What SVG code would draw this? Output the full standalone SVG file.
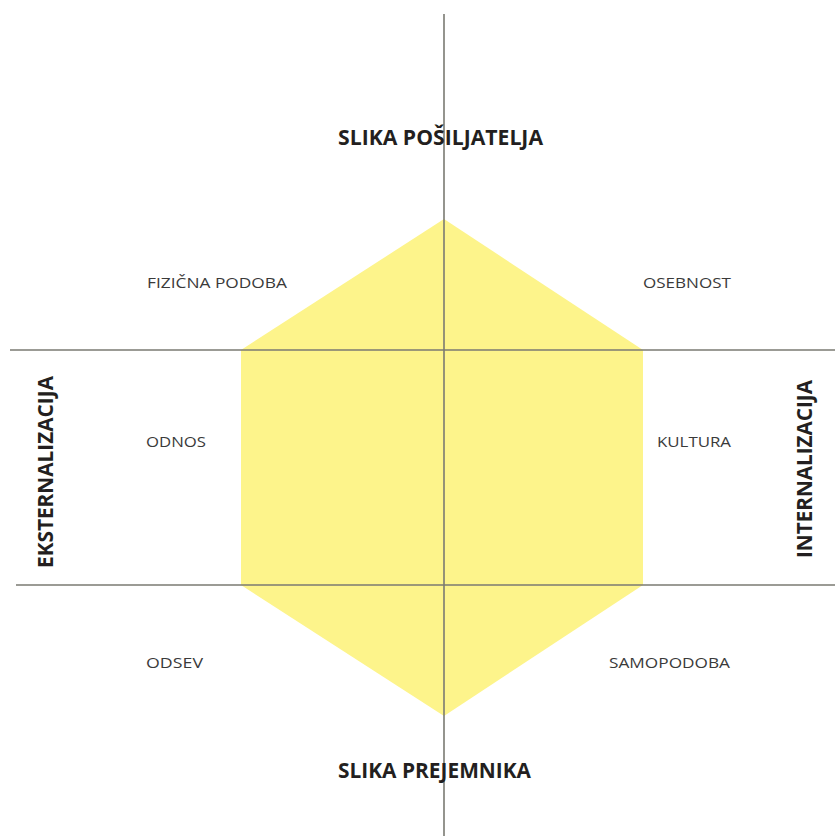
<svg xmlns="http://www.w3.org/2000/svg" width="835" height="836" viewBox="0 0 835 836">
<style>
.ax{stroke:#7a7a72;stroke-width:1.6;fill:none}
.t{font-family:"Open Sans","Liberation Sans",sans-serif;font-weight:bold;font-size:20.5px;fill:#231f20;text-anchor:middle}
.l{font-family:"Open Sans","Liberation Sans",sans-serif;font-size:14.5px;fill:#3a3a3a;text-anchor:middle}
</style>
<rect width="835" height="836" fill="#ffffff"/>
<g id="hexagon"><polygon points="444,219 643,350 643,585 444,716 241,585 241,350" fill="#fdf48b"/></g>
<g id="connectors">
<line class="ax" x1="444" y1="14" x2="444" y2="836"/>
<line class="ax" x1="10" y1="350" x2="835" y2="350"/>
<line class="ax" x1="16" y1="585" x2="835" y2="585"/>
</g>
<g id="slika-posiljatelja"><text class="t" x="440.5" y="145" textLength="205" lengthAdjust="spacingAndGlyphs">SLIKA POŠILJATELJA</text></g>
<g id="slika-prejemnika"><text class="t" x="434.5" y="778" textLength="193" lengthAdjust="spacingAndGlyphs">SLIKA PREJEMNIKA</text></g>
<g id="eksternalizacija"><text class="t" transform="translate(53,472) rotate(-90)" textLength="192" lengthAdjust="spacingAndGlyphs">EKSTERNALIZACIJA</text></g>
<g id="internalizacija"><text class="t" transform="translate(812,469) rotate(-90)" textLength="178" lengthAdjust="spacingAndGlyphs">INTERNALIZACIJA</text></g>
<g id="fizicna-podoba"><text class="l" x="217" y="288" textLength="140" lengthAdjust="spacingAndGlyphs">FIZIČNA PODOBA</text></g>
<g id="osebnost"><text class="l" x="687" y="288" textLength="88" lengthAdjust="spacingAndGlyphs">OSEBNOST</text></g>
<g id="odnos"><text class="l" x="176" y="447" textLength="60" lengthAdjust="spacingAndGlyphs">ODNOS</text></g>
<g id="kultura"><text class="l" x="694" y="447" textLength="74" lengthAdjust="spacingAndGlyphs">KULTURA</text></g>
<g id="odsev"><text class="l" x="174.5" y="668" textLength="57" lengthAdjust="spacingAndGlyphs">ODSEV</text></g>
<g id="samopodoba"><text class="l" x="669.5" y="668" textLength="121" lengthAdjust="spacingAndGlyphs">SAMOPODOBA</text></g>
</svg>
